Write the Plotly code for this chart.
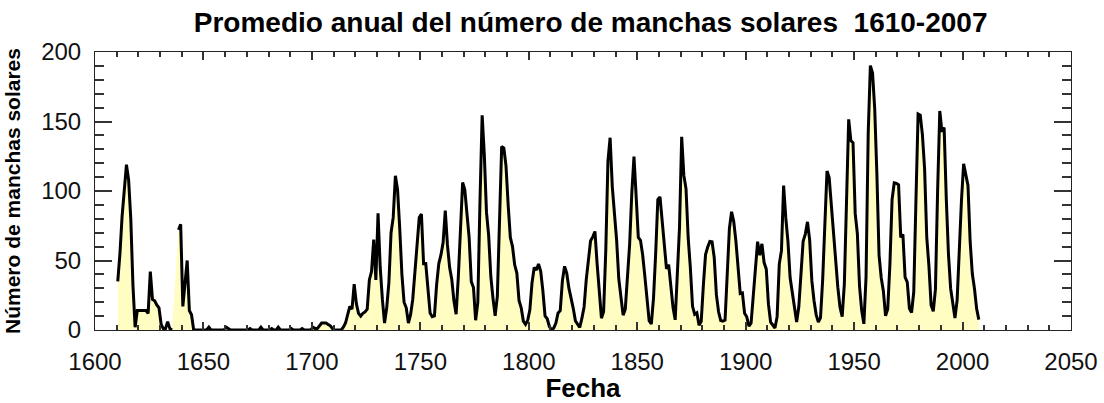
import plotly.graph_objects as go

# Annual mean sunspot number, 1610-2007 (None = no data)
years = list(range(1610, 2008))

spots_1610_1699 = [
    35, 55, 82, 100, 119, 108, 80, 32, 2, 14,        # 1610-1619
    14, 14, 14, 14, 12, 42, 22, 21, 18, 16,          # 1620-1629
    4, 1, 1, 6, 1, 0, None, None, 72, 76,            # 1630-1639
    17, 33, 50, 14, 11, 0, 0, 0, 0, 0,               # 1640-1649
    0, 0, 2, 0, 0, 0, 0, 0, 0, 0,                    # 1650-1659
    2, 1, 0, 0, 0, 0, 0, 0, 0, 0,                    # 1660-1669
    0, 1, 0, 0, 0, 0, 2, 0, 0, 0,                    # 1670-1679
    0, 1, 0, 0, 2, 0, 0, 0, 0, 0,                    # 1680-1689
    1, 0, 0, 0, 0, 1, 0, 0, 0, 0,                    # 1690-1699
]
spots_1700_1748 = [
    2, 1, 1, 3, 5, 5, 5, 4, 3, 1,                    # 1700-1709
    0, 0, 0, 0, 2, 5, 11, 17, 15, 33,                # 1710-1719
    19, 12, 10, 12, 13, 15, 36, 42, 65, 36,          # 1720-1729
    84, 45, 22, 5, 16, 34, 70, 81, 111, 101,         # 1730-1739
    73, 40, 20, 16, 5, 11, 22, 40, 60,               # 1740-1748
]
spots_1749_2007 = [
    80.9, 83.4, 47.7, 47.8, 30.7, 12.2, 9.6, 10.2, 32.4, 47.6, 54.0,
    62.9, 85.9, 61.2, 45.1, 36.4, 20.9, 11.4, 37.8, 69.8, 106.1,
    100.8, 81.6, 66.5, 34.8, 30.6, 7.0, 19.8, 92.5, 154.4, 125.9,
    84.8, 68.1, 38.5, 22.8, 10.2, 24.1, 82.9, 132.0, 130.9, 118.1,
    89.9, 66.6, 60.0, 46.9, 41.0, 21.3, 16.0, 6.4, 4.1, 6.8,
    14.5, 34.0, 45.0, 43.1, 47.5, 42.2, 28.1, 10.1, 8.1, 2.5,
    0.0, 1.4, 5.0, 12.2, 13.9, 35.4, 45.8, 41.0, 30.1, 23.9,
    15.6, 6.6, 4.0, 1.8, 8.5, 16.6, 36.3, 49.6, 64.2, 67.0,
    70.9, 47.8, 27.5, 8.5, 13.2, 56.9, 121.5, 138.3, 103.2, 85.7,
    64.6, 36.7, 24.2, 10.7, 15.0, 40.1, 61.5, 98.5, 124.7, 96.3,
    66.6, 64.5, 54.1, 39.0, 20.6, 6.7, 4.3, 22.7, 54.8, 93.8,
    95.8, 77.2, 59.1, 44.0, 47.0, 30.5, 16.3, 7.3, 37.6, 74.0,
    139.0, 111.2, 101.6, 66.2, 44.7, 17.0, 11.3, 12.4, 3.4, 6.0,
    32.3, 54.3, 59.7, 63.7, 63.5, 52.2, 25.4, 13.1, 6.8, 6.3,
    7.1, 35.6, 73.0, 85.1, 78.0, 64.0, 41.8, 26.2, 26.7, 12.1,
    9.5, 2.7, 5.0, 24.4, 42.0, 63.5, 53.8, 62.0, 48.5, 43.9,
    18.6, 5.7, 3.6, 1.4, 9.6, 47.4, 57.1, 103.9, 80.6, 63.6,
    37.6, 26.1, 14.2, 5.8, 16.7, 44.3, 63.9, 69.0, 77.8, 64.9,
    35.7, 21.2, 11.1, 5.7, 8.7, 36.1, 79.7, 114.4, 109.6, 88.8,
    67.8, 47.5, 30.6, 16.3, 9.6, 33.2, 92.6, 151.6, 136.3, 134.7,
    83.9, 69.4, 31.5, 13.9, 4.4, 38.0, 141.7, 190.2, 184.8, 159.0,
    112.3, 53.9, 37.6, 27.9, 10.2, 15.1, 47.0, 93.8, 105.9, 105.5,
    104.5, 66.6, 68.9, 38.0, 34.5, 15.5, 12.6, 27.5, 92.5, 155.4,
    154.6, 140.4, 115.9, 66.6, 45.9, 17.9, 13.4, 29.4, 100.2, 157.6,
    142.6, 145.7, 94.3, 54.6, 29.9, 17.5, 8.6, 21.5, 64.3, 93.3,
    119.6, 111.0, 104.0, 63.7, 40.4, 29.8, 15.2, 7.5,
]
spots = spots_1610_1699 + spots_1700_1748 + spots_1749_2007

x_range = [1600, 2050]
y_range = [0, 200]
x_minor = 10
y_minor = 10

title_text = "Promedio anual del número de manchas solares\u00a0 1610-2007"
x_title = "Fecha"
y_title = "Número de manchas solares"

xs = [y + 0.5 for y in years]  # annual means plotted at mid-year

fig = go.Figure()
fig.add_trace(go.Scatter(
    x=xs, y=spots, mode="lines", fill="tozeroy", fillcolor="#FFFDC2",
    line=dict(color="black", width=3), showlegend=False,
))

tick_font = dict(family="Liberation Sans, Arial, sans-serif", size=24, color="#111")

fig.update_layout(
    template="simple_white",
    width=1104, height=403,
    margin=dict(l=95, r=33, t=52, b=73, autoexpand=False),
    title=dict(
        text=title_text, x=0.535, xanchor="center", y=0.945, yanchor="middle",
        font=dict(family="Liberation Sans, Arial, sans-serif",
                  size=28, color="black", weight="bold"),
    ),
    xaxis=dict(
        range=x_range, showline=True, mirror="allticks",
        ticks="inside", ticklen=8, tickwidth=2, tickcolor="#333",
        minor=dict(ticks="inside", ticklen=5, dtick=x_minor, tickcolor="#333"),
        tickfont=tick_font, ticklabelstandoff=10,
        title=dict(text=x_title, standoff=4,
                   font=dict(family="Liberation Sans, Arial, sans-serif", size=26,
                             color="black", weight="bold")),
    ),
    yaxis=dict(
        range=y_range, showline=True, mirror="allticks",
        ticks="inside", ticklen=17, tickwidth=2, tickcolor="#333",
        minor=dict(ticks="inside", ticklen=9, dtick=y_minor, tickcolor="#333"),
        tickfont=tick_font, ticklabelstandoff=8,
        title=dict(text=y_title, standoff=14,
                   font=dict(family="Liberation Sans, Arial, sans-serif", size=21,
                             color="black", weight="bold")),
    ),
)

# remove the browser's default 8px page margin so the figure sits at (0, 0)
fig.write_html("out.html", config={"displayModeBar": False},
               post_script="document.body.style.margin='0';")
